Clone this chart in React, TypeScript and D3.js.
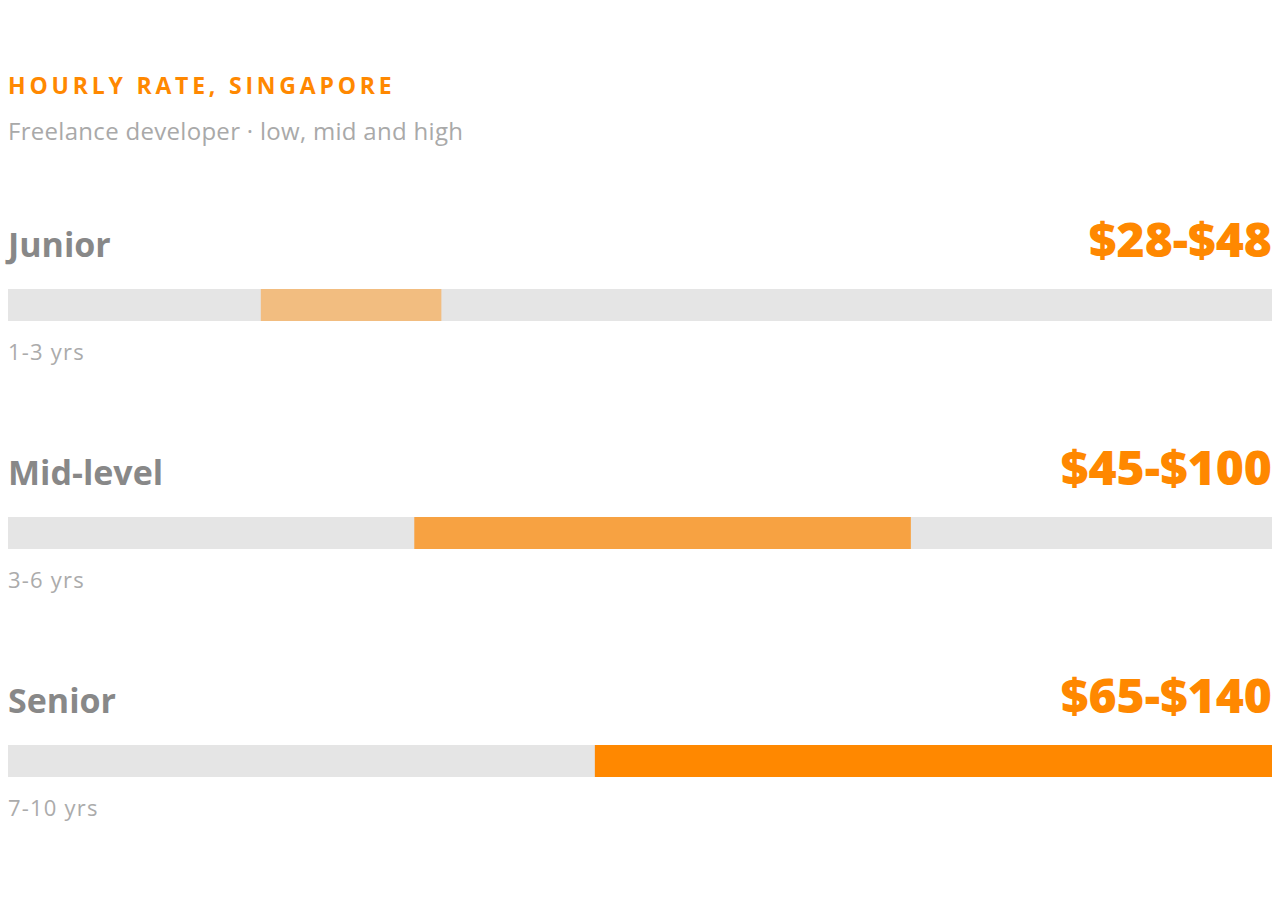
import React from "react";
import * as d3 from "d3";

const levels = ["Junior", "Mid-level", "Senior"];
const experience = ["1-3 yrs", "3-6 yrs", "7-10 yrs"];
const lowRates = [28, 45, 65];
const highRates = [48, 100, 140];
const barColors = ["#F2BD80", "#F7A242", "#FF8800"];
const domainMax = 140;

const title = "HOURLY RATE, SINGAPORE";
const subtitle = "Freelance developer · low, mid and high";

const W = 1280;
const H = 920;
const FONT = "'Open Sans', 'Noto Sans', sans-serif";

export default function App() {
  const left = 8;
  const right = 1272;
  const x = d3.scaleLinear().domain([0, domainMax]).range([left, right]);
  const rowY = d3
    .scalePoint<string>()
    .domain(levels)
    .range([257, 713]);
  const barH = 32;

  return (
    <svg
      width={W}
      height={H}
      style={{ position: "absolute", left: 0, top: 0, background: "#fff" }}
      fontFamily={FONT}
    >
      <text
        x={left}
        y={94}
        fill="#FF8800"
        fontSize={23}
        fontWeight={700}
        letterSpacing={3.8}
      >
        {title}
      </text>
      <text x={left} y={140} fill="#A9A9A9" fontSize={24} letterSpacing={0.3}>
        {subtitle}
      </text>
      {levels.map((lvl, i) => {
        const base = rowY(lvl) as number;
        const barTop = base + 32;
        return (
          <g key={lvl}>
            <text x={left} y={base} fill="#888" fontSize={34} fontWeight={700}>
              {lvl}
            </text>
            <text
              x={right}
              y={base}
              fill="#FF8800"
              fontSize={48}
              fontWeight={800}
              textAnchor="end"
            >
              {`$${lowRates[i]}-$${highRates[i]}`}
            </text>
            <rect x={x(0)} y={barTop} width={x(domainMax) - x(0)} height={barH} fill="#E5E5E5" />
            <rect
              x={x(lowRates[i])}
              y={barTop}
              width={x(highRates[i]) - x(lowRates[i])}
              height={barH}
              fill={barColors[i]}
            />
            <text x={left} y={barTop + barH + 39} fill="#ABABAB" fontSize={22} letterSpacing={1.2}>
              {experience[i]}
            </text>
          </g>
        );
      })}
    </svg>
  );
}
